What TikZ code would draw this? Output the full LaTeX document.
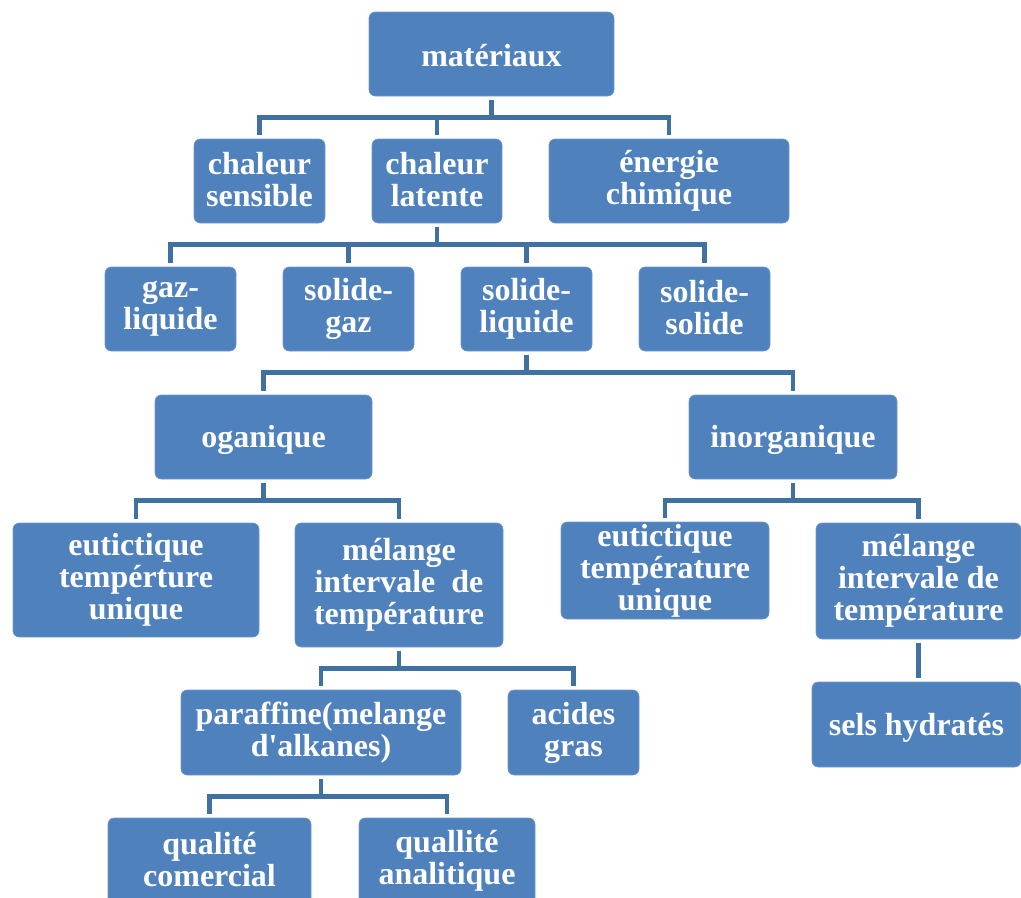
\documentclass[tikz,border=0pt]{standalone}
\usepackage{fontspec}
\setmainfont{Liberation Serif}
\usepackage{xcolor}
\usetikzlibrary{positioning, calc}
\definecolor{boxblue}{RGB}{79,129,189}
\definecolor{linkblue}{RGB}{65,113,160}
\newcommand\boxstrut{\rule[-2.4pt]{0pt}{24pt}}
\tikzset{
  box/.style 2 args={rectangle, rounded corners=4.5pt, fill=boxblue, draw=boxblue!80!white, line width=0.4pt, text=white, align=center, inner sep=0pt, minimum width=#1*0.75pt, minimum height=#2*0.75pt, font=\fontsize{24}{24}\selectfont\bfseries, execute at begin node=\boxstrut, execute at end node=\boxstrut},
  link/.style={draw=linkblue, line width=3.6pt, shorten <=2.5pt, shorten >=3pt},
}
\begin{document}
\begin{tikzpicture}[x=0.75pt, y=-0.75pt]
\useasboundingbox (0,0) rectangle (1021,897);
\node[box={245}{84}] (mat) at (491.5,54) {matériaux};
\node[box={131}{84}] (sens) at (259.5,181) {chaleur\\sensible};
\node[box={130}{84}] (lat) at (437,181) {chaleur\\latente};
\node[box={240}{84}] (chim) at (669,181) {énergie\\chimique};
\node[box={131}{84}] (gl) at (170.5,309) {gaz-\\liquide};
\node[box={131}{84}] (sg) at (348.5,309) {solide-\\gaz};
\node[box={131}{84}] (sl) at (526.5,309) {solide-\\liquide};
\node[box={131}{84}] (ss) at (704.5,309) {solide-\\solide};
\node[box={217}{84}] (org) at (263.5,437) {oganique};
\node[box={208}{84}] (inorg) at (793,437) {inorganique};
\node[box={246}{114}] (eutl) at (136,580) {eutictique\\tempérture\\unique};
\node[box={208}{124}] (mell) at (399,585) {mélange\\intervale\ \ de\\température};
\node[box={208}{97}] (eutr) at (665,570.5) {eutictique\\température\\unique};
\node[box={205}{116}] (melr) at (918.5,581) {mélange\\intervale de\\température};
\node[box={280}{85}] (par) at (321,732.5) {paraffine(melange\\d\textquotesingle alkanes)};
\node[box={131}{85}] (acid) at (573.5,732.5) {acides\\gras};
\node[box={209}{85}] (sels) at (916.5,724.5) {sels hydratés};
\node[box={203}{86}] (qcom) at (209.5,861) {qualité\\comercial};
\node[box={176}{86}] (qana) at (447,861) {quallité\\analitique};
% connectors
\draw[link](mat.south)--++(0,21.5)-|(sens.north); \draw[link](mat.south)--++(0,21.5)-|(lat.north);
\draw[link](mat.south)--++(0,21.5)-|(chim.north);
\draw[link](lat.south)--++(0,21.5)-|(gl.north); \draw[link](lat.south)--++(0,21.5)-|(sg.north);
\draw[link](lat.south)--++(0,21.5)-|(sl.north); \draw[link](lat.south)--++(0,21.5)-|(ss.north);
\draw[link](sl.south)--++(0,21.5)-|(org.north); \draw[link](sl.south)--++(0,21.5)-|(inorg.north);
\draw[link](org.south)--++(0,21.5)-|(eutl.north); \draw[link](org.south)--++(0,21.5)-|(mell.north);
\draw[link](inorg.south)--++(0,21.5)-|(eutr.north); \draw[link](inorg.south)--++(0,21.5)-|(melr.north);
\draw[link](mell.south)--++(0,21.5)-|(par.north); \draw[link](mell.south)--++(0,21.5)-|(acid.north);
\draw[link](melr.south)--(melr.south|-sels.north);
\draw[link](par.south)--++(0,21.5)-|(qcom.north); \draw[link](par.south)--++(0,21.5)-|(qana.north);
\end{tikzpicture}
\end{document}
